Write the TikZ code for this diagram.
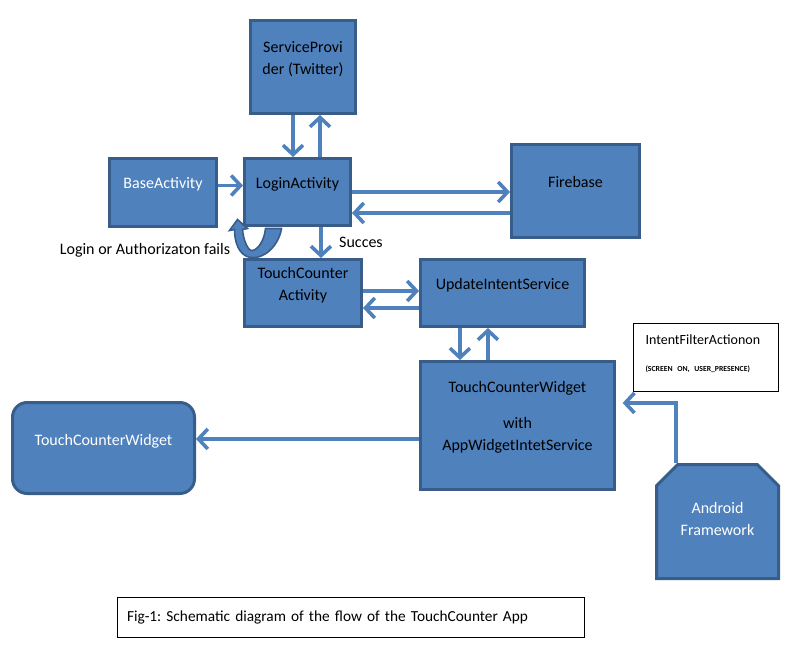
\documentclass[tikz,border=0pt]{standalone}
\usepackage{fontspec}
\setmainfont{Carlito}
\usetikzlibrary{arrows.meta, shapes.misc}
\definecolor{boxfill}{HTML}{4F81BD}
\definecolor{boxline}{HTML}{385D8A}
\frenchspacing

\begin{document}
\begin{tikzpicture}[x=0.75pt, y=-0.75pt]
	\tikzset {box/.style={draw=boxline, fill=boxfill, line width=2.25pt, align=center, inner sep=0pt, text depth=14pt, font=\fontsize{12}{16.5}\selectfont},
		flow/.style={draw=boxfill, line width=2.7pt, -{Straight Barb[length=7pt, width=15pt]}},
		note/.style={draw=black, line width=0.75pt, fill=white, align=left, inner sep=0pt},
		tag/.style={font=\fontsize{12}{14}\selectfont} }
	\useasboundingbox (0,0) rectangle (794,646);

	\node[box, minimum width=78.75pt, minimum height=69.75pt] (sp) at (303,67) {ServiceProvi\\der (Twitter)};
	\node[box, text=white, minimum width=80.25pt, minimum height=51pt] (base) at (163,192.5) {BaseActivity};
	\node[box, minimum width=79.5pt, minimum height=50.25pt] (login) at (297.5,192) {LoginActivity};
	\node[box, minimum width=96pt, minimum height=69.75pt] (fire) at (575.5,191) {Firebase};
	\node[box, minimum width=87.75pt, minimum height=50.25pt] (tca) at (303,293) {TouchCounter\\Activity};
	\node[box, minimum width=123pt, minimum height=50.25pt] (uis) at (502.5,293) {UpdateIntentService};
	\node[box, minimum width=145.5pt, minimum height=96pt] (tcw) at (517.5,425.5) {TouchCounterWidget\\[10.5pt]with\\AppWidgetIntetService};
	\node[box, text=white, rounded corners=11pt, minimum width=136.5pt, minimum height=68.25pt, text depth=12pt] (lw) at (103.5,448) {TouchCounterWidget};
	\node[box, text=white, chamfered rectangle, chamfered rectangle corners={north west, north east}, chamfered rectangle sep=8pt, minimum width=91.5pt, minimum height=85.5pt, text depth=4pt] (andr) at (717.5,521.5) {Android\\Framework};
	\node[note, minimum width=108.75pt, minimum height=51pt, text width=90.75pt, text depth=27pt, font=\fontsize{10.5}{13}\selectfont] (filt) at (706,357.5) {IntentFilterActionon\\[7.5pt]{\fontsize{5.8}{6}\selectfont\bfseries (SCREEN ON, USER\_PRESENCE)}};
	\node[note, minimum width=350.25pt, minimum height=30pt, text width=336pt, font=\fontsize{11.5}{14}\selectfont] (cap) at (351,617.5) {Fig-1: Schematic diagram of the flow of the TouchCounter App};

	\node[tag] (ok) at (361,242) {Succes};
	\node[tag] (fail) at (145,250) {Login or Authorizaton fails};

	\draw[flow] ([xshift=-7.5pt]sp.south) -- ([xshift=-7.5pt]sp.south |- login.north);
	\draw[flow] ([xshift=12.75pt]sp.south |- login.north) -- ([xshift=12.75pt]sp.south);
	\draw[flow] ([yshift=5.25pt]base.east) -- ([yshift=5.25pt]base.east -| login.west);
	\draw[flow] (login.east) -- (login.east -| fire.west);
	\draw[flow] ([yshift=-15.75pt]login.east -| fire.west) -- ([yshift=-15.75pt]login.east);
	\draw[flow] ([xshift=17.6pt]login.south) -- ([xshift=17.6pt]login.south |- tca.north);
	\draw[flow] ([yshift=1.5pt]tca.east) -- ([yshift=1.5pt]tca.east -| uis.west);
	\draw[flow] ([yshift=-11.25pt]tca.east -| uis.west) -- ([yshift=-11.25pt]tca.east);
	\draw[flow] ([xshift=-31.9pt]uis.south) -- ([xshift=-31.9pt]uis.south |- tcw.north);
	\draw[flow] ([xshift=-10.9pt]uis.south |- tcw.north) -- ([xshift=-10.9pt]uis.south);
	\draw[flow] ([yshift=-10.1pt]tcw.west) -- ([yshift=-10.1pt]tcw.west -| lw.east);
	\draw[flow, shorten >=5pt] ([xshift=-31.1pt]andr.north) |- ([yshift=16.9pt]tcw.east);

	% login fails: curved arrow back into the login box
	\draw[draw=boxline, fill=boxfill, line width=1.2pt, shift={(login.south west)}]
		(38.5,1.5) .. controls (35.5,19.5) and (20.5,32.5) .. (7.5,30.5) .. controls (-4.5,28.5) and (-8.5,14.5) .. (-8.5,2.5)
		-- (-13.5,3.5) -- (-5.5,-7.5) -- (4.5,1.5) -- (-0.5,2.5) .. controls (0.5,14.5) and (5.5,24.5) .. (9.5,23.5)
		.. controls (15.5,22.5) and (21.5,12.5) .. (22.5,1.5) -- cycle;
\end{tikzpicture}
\end{document}
